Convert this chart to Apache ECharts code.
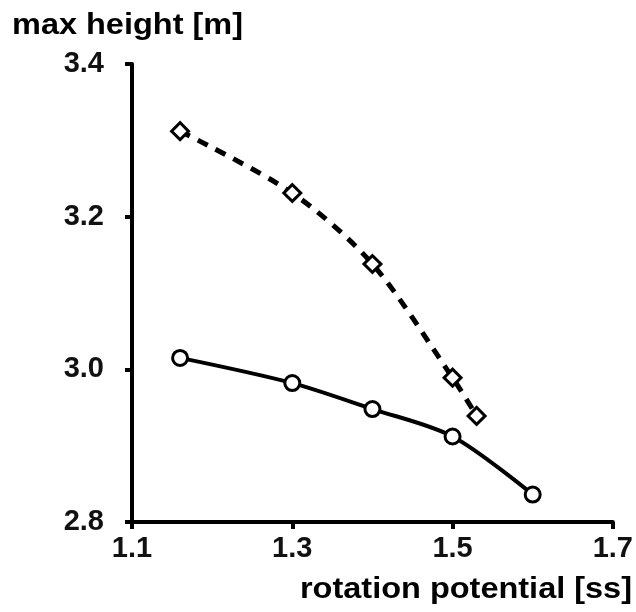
<!DOCTYPE html>
<html>
<head>
<meta charset="utf-8">
<script src="https://cdn.jsdelivr.net/npm/echarts@6/dist/echarts.min.js"></script>
<style>html,body{margin:0;padding:0;background:#fff;}#c{width:636px;height:612px;}</style>
</head>
<body>
<div id="c"></div>
<script>
var xTicks = [1.1, 1.3, 1.5, 1.7];
var yTicks = [2.8, 3.0, 3.2, 3.4];
var circleX = [1.16, 1.30, 1.40, 1.50, 1.60];
var circleY = [3.015, 2.982, 2.948, 2.912, 2.836];
var diamondX = [1.16, 1.30, 1.40, 1.50, 1.53];
var diamondY = [3.312, 3.231, 3.138, 2.989, 2.939];
var yTitle = 'max height [m]';
var xTitle = 'rotation potential [ss]';

function pairs(xs, ys){ return xs.map(function(x,i){ return [x, ys[i]]; }); }

var font = 'Liberation Sans, Arial, sans-serif';
var chart = echarts.init(document.getElementById('c'), null, {renderer:'canvas'});
chart.setOption({
  backgroundColor:'#fff',
  animation:false,
  grid:{left:132, right:21, top:64, bottom:90, containLabel:false},
  xAxis:{
    type:'value', min:1.1, max:1.7, interval:0.2,
    axisLine:{show:true, lineStyle:{color:'#000', width:4}},
    axisTick:{show:true, inside:false, length:7, lineStyle:{color:'#000', width:4}},
    axisLabel:{color:'#111', fontSize:29, fontFamily:font, fontWeight:'bold', margin:12,
      formatter:function(v){ return v.toFixed(1); }},
    splitLine:{show:false}
  },
  yAxis:{
    type:'value', min:2.8, max:3.4, interval:0.2,
    axisLine:{show:true, lineStyle:{color:'#000', width:4}},
    axisTick:{show:true, inside:false, length:7, lineStyle:{color:'#000', width:4}},
    axisLabel:{color:'#111', fontSize:29, fontFamily:font, fontWeight:'bold', margin:28,
      formatter:function(v){ return v.toFixed(1); }},
    splitLine:{show:false}
  },
  graphic:[
    {type:'text', x:12, y:11, scaleX:1.12, style:{text:yTitle, font:'bold 29px '+font, fill:'#000', align:'left', verticalAlign:'top'}},
    {type:'text', x:632, y:575, scaleX:1.12, style:{text:xTitle, font:'bold 29px '+font, fill:'#000', align:'right', verticalAlign:'top'}}
  ],
  series:[
    {
      type:'line', data:pairs(diamondX, diamondY), smooth:0.3,
      symbol:'rect', symbolSize:12, symbolRotate:45,
      itemStyle:{color:'#fff', borderColor:'#000', borderWidth:3},
      lineStyle:{color:'#000', width:5, type:[11,9]},
      z:3
    },
    {
      type:'line', data:pairs(circleX, circleY), smooth:0.3,
      symbol:'circle', symbolSize:15,
      itemStyle:{color:'#fff', borderColor:'#000', borderWidth:3},
      lineStyle:{color:'#000', width:4},
      z:4
    }
  ]
});
</script>
</body>
</html>
